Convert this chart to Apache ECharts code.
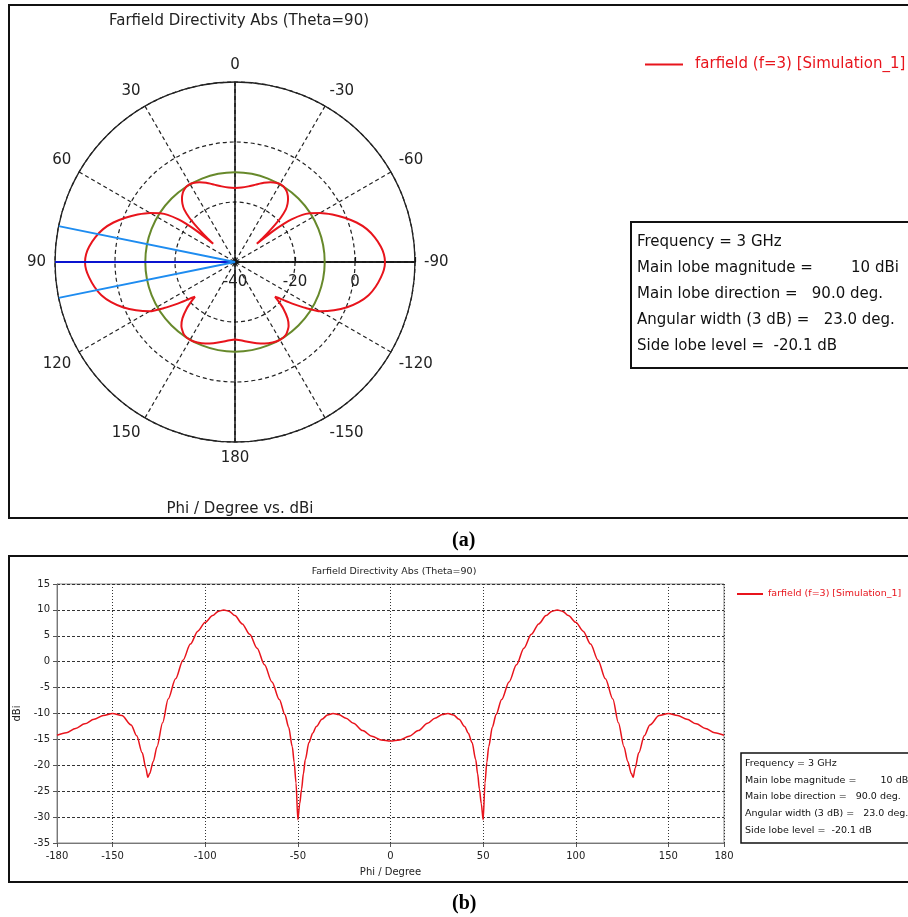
<!DOCTYPE html>
<html lang="en">
<head>
  <meta charset="UTF-8">
  <title>Farfield Directivity Abs (Theta=90)</title>
  <script src="https://cdn.jsdelivr.net/npm/echarts@6/dist/echarts.min.js"></script>
  <style>
    body { margin: 0; background: #fff; }
  </style>
</head>
<body>
  <div id="main" style="width: 908px;height:917px;"></div>
  <script>
    var myChart = echarts.init(document.getElementById('main'));

    // Phi / Degree
    var phiDeg = [-180, -175, -170, -165, -160, -155, -150, -145, -140, -137, -134, -132, -131, -130, -128, -126, -123, -120,
      -116, -112, -108, -104, -100, -96, -93, -90, -87, -84, -80, -76, -72, -68, -64, -60, -57, -55, -53, -52, -51, -50,
      -49, -48, -47, -46, -44, -42, -40, -37, -34, -31, -28, -24, -20, -15, -10, -5, 0,
      5, 10, 15, 20, 24, 28, 31, 34, 37, 40, 42, 44, 46, 47, 48, 49, 50, 51, 52, 53, 55, 57, 60,
      64, 68, 72, 76, 80, 84, 87, 90, 93, 96, 100, 104, 108, 112, 116, 120, 123, 126, 128, 130,
      131, 132, 134, 137, 140, 145, 150, 155, 160, 165, 170, 175, 180];
    // dBi
    var dbi = [-14.2, -13.7, -12.9, -12.0, -11.1, -10.4, -10.0, -10.4, -12.2, -14.3, -17.6, -20.6, -22.3, -21.6, -19.2, -16.4, -11.8, -7.2,
      -3.3, 0.3, 3.4, 5.9, 7.6, 8.9, 9.7, 10.0, 9.7, 8.9, 7.3, 5.3, 2.6, -0.6, -3.9, -7.3, -10.2, -12.6, -16.4, -19.4, -23.4, -30.5,
      -27.4, -24.6, -21.6, -18.9, -15.6, -13.8, -12.5, -11.1, -10.3, -10.0, -10.2, -10.9, -11.9, -13.3, -14.4, -15.1, -15.3,
      -15.1, -14.4, -13.3, -11.9, -10.9, -10.2, -10.0, -10.3, -11.1, -12.5, -13.8, -15.6, -18.9, -21.6, -24.6, -27.4, -30.5, -23.4, -19.4, -16.4, -12.6, -10.2, -7.3,
      -3.9, -0.6, 2.6, 5.3, 7.3, 8.9, 9.7, 10.0, 9.7, 8.9, 7.6, 5.9, 3.4, 0.3, -3.3, -7.2, -11.8, -16.4, -19.2, -21.6,
      -22.3, -20.6, -17.6, -14.3, -12.2, -10.4, -10.0, -10.4, -11.1, -12.0, -12.9, -13.7, -14.2];

    // cartesian x ticks
    var phiTicks = [-180, -150, -100, -50, 0, 50, 100, 150, 180];

    // results box
    var frequency = 3;
    var mainLobeMag = 10;
    var mainLobeDir = 90.0;
    var angularWidth = 23.0;
    var sideLobeLevel = -20.1;

    var seriesName = 'farfield (f=3) [Simulation_1]';
    var font = 'DejaVu Sans';
    var red = '#e8141c';

    var lineData = phiDeg.map(function (p, i) { return [p, dbi[i]]; });
    var polarData = phiDeg.map(function (p, i) { return [dbi[i], p]; });

    var infoLines = [
      'Frequency = ' + frequency + ' GHz',
      'Main lobe magnitude =        ' + mainLobeMag + ' dBi',
      'Main lobe direction =   ' + mainLobeDir.toFixed(1) + ' deg.',
      'Angular width (3 dB) =   ' + angularWidth.toFixed(1) + ' deg.',
      'Side lobe level =  ' + sideLobeLevel.toFixed(1) + ' dB'
    ];

    option = {
      animation: false,
      textStyle: { fontFamily: font },
      title: [
        {
          text: 'Farfield Directivity Abs (Theta=90)',
          left: 234, top: 9, textAlign: 'center',
          textStyle: { fontSize: 15, fontWeight: 'normal', color: '#222', fontFamily: font }
        },
        {
          text: 'Phi / Degree vs. dBi',
          left: 235, top: 497, textAlign: 'center',
          textStyle: { fontSize: 15, fontWeight: 'normal', color: '#222', fontFamily: font }
        },
        {
          text: 'Farfield Directivity Abs (Theta=90)',
          left: 389, top: 562, textAlign: 'center',
          textStyle: { fontSize: 9.5, fontWeight: 'normal', color: '#222', fontFamily: font }
        }
      ],
      legend: [
        {
          data: [seriesName], left: 645, top: 57, padding: 0, icon: 'rect', itemWidth: 38, itemHeight: 2,
          textStyle: { color: red, fontSize: 15, fontFamily: font, padding: [0, 0, 0, 7] }
        },
        {
          data: [seriesName], left: 737, top: 589, padding: 0, icon: 'rect', itemWidth: 26, itemHeight: 2,
          textStyle: { color: red, fontSize: 9.5, fontFamily: font }
        }
      ],
      polar: [
        { center: [235, 262], radius: 180 },
        { center: [235, 262], radius: 180 }
      ],
      angleAxis: [
        {
          polarIndex: 0, type: 'value', min: -180, max: 180, interval: 30,
          startAngle: 270, clockwise: false,
          axisLine: { lineStyle: { color: '#222', width: 1.3 } },
          axisTick: { show: false },
          axisLabel: {
            fontSize: 15, color: '#222', margin: 9,
            formatter: function (v) { return v === -180 ? '180' : (v === 180 ? '' : String(v)); }
          },
          splitLine: { lineStyle: { color: '#222', type: [4, 3], width: 1.2 } }
        },
        {
          polarIndex: 1, type: 'value', min: 0, max: 360, interval: 90,
          startAngle: 0, clockwise: false,
          axisLine: { show: false }, axisTick: { show: false }, axisLabel: { show: false },
          splitLine: { lineStyle: { color: '#111', width: 1.5 } }
        }
      ],
      radiusAxis: [
        {
          polarIndex: 0, type: 'value', min: -40, max: 20, interval: 20,
          axisLine: { show: false }, axisTick: { show: false }, axisLabel: { show: false },
          splitLine: { lineStyle: { color: '#222', type: [4, 3], width: 1.2 } }
        },
        {
          polarIndex: 1, type: 'value', min: -40, max: 20, interval: 20,
          axisLine: { lineStyle: { color: '#111', width: 1.5 } },
          axisTick: { show: true, inside: false, length: 5, lineStyle: { color: '#111', width: 1.2 } },
          axisLabel: {
            fontSize: 15, color: '#222', margin: -20, verticalAlign: 'middle',
            formatter: function (v) { return v === 20 ? '' : String(v); }
          },
          splitLine: { show: false }
        }
      ],
      grid: {
        left: 57, top: 584, right: 184, bottom: 74,
        show: true, borderColor: '#888', borderWidth: 1
      },
      xAxis: {
        type: 'value', min: -180, max: 180,
        name: 'Phi / Degree', nameLocation: 'middle', nameGap: 24,
        nameTextStyle: { fontSize: 10, color: '#222' },
        axisLine: { onZero: false, lineStyle: { color: '#777' } },
        axisTick: { customValues: phiTicks, length: 4, lineStyle: { color: '#555' } },
        axisLabel: { customValues: phiTicks, fontSize: 10, color: '#222', margin: 8 },
        splitLine: { show: true, lineStyle: { color: '#333', type: [1, 2] } }
      },
      yAxis: {
        type: 'value', min: -35, max: 15, interval: 5,
        name: 'dBi', nameLocation: 'middle', nameGap: 30, nameRotate: 90,
        nameTextStyle: { fontSize: 10, color: '#222' },
        axisLine: { show: true, onZero: false, lineStyle: { color: '#777' } },
        axisTick: { show: true, length: 4, lineStyle: { color: '#555' } },
        axisLabel: { fontSize: 10, color: '#222', margin: 7 },
        splitLine: { lineStyle: { color: '#333', type: [3, 2] } }
      },
      series: [
        {
          name: seriesName, type: 'line', coordinateSystem: 'polar', polarIndex: 0,
          data: polarData, showSymbol: false, symbol: 'none', smooth: 0.2,
          lineStyle: { color: red, width: 2 }, itemStyle: { color: red }, z: 5
        },
        {
          name: 'side lobe level', type: 'custom', coordinateSystem: 'polar', polarIndex: 0,
          data: [[mainLobeMag + sideLobeLevel, 0]], z: 4, silent: true,
          renderItem: function (params, api) {
            var c = api.coord([-40, 0]);
            var p = api.coord([api.value(0), 0]);
            var r = Math.sqrt((p[0] - c[0]) * (p[0] - c[0]) + (p[1] - c[1]) * (p[1] - c[1]));
            return {
              type: 'circle', shape: { cx: c[0], cy: c[1], r: r },
              style: { fill: 'none', stroke: '#67892b', lineWidth: 2 }
            };
          }
        },
        {
          name: 'main lobe', type: 'line', coordinateSystem: 'polar', polarIndex: 0,
          data: [[-40, mainLobeDir], [20, mainLobeDir]], symbol: 'none',
          lineStyle: { color: '#0a14d0', width: 2 }, z: 6, silent: true
        },
        {
          name: '3 dB width', type: 'line', coordinateSystem: 'polar', polarIndex: 0,
          data: [[20, mainLobeDir - angularWidth / 2], [-40, mainLobeDir], [20, mainLobeDir + angularWidth / 2]],
          symbol: 'none', lineStyle: { color: '#1e8cf0', width: 2 }, z: 6, silent: true
        },
        {
          name: seriesName, type: 'line', xAxisIndex: 0, yAxisIndex: 0,
          data: lineData, showSymbol: false, symbol: 'none', smooth: 0.3, smoothMonotone: 'x',
          lineStyle: { color: red, width: 1.5 }, itemStyle: { color: red }, z: 5
        }
      ],
      graphic: [
        // panel frames
        { type: 'rect', shape: { x: 9, y: 5, width: 910, height: 513 }, style: { fill: 'none', stroke: '#111', lineWidth: 2 }, silent: true },
        { type: 'rect', shape: { x: 9, y: 556, width: 910, height: 326 }, style: { fill: 'none', stroke: '#111', lineWidth: 2 }, silent: true },
        // results box (a)
        { type: 'rect', shape: { x: 631, y: 222, width: 290, height: 146 }, style: { fill: '#fff', stroke: '#111', lineWidth: 2 }, z: 10 },
        {
          type: 'text', left: 637, top: 229, z: 11,
          style: { text: infoLines.join('\n'), font: '15px "DejaVu Sans"', lineHeight: 26, fill: '#111' }
        },
        // results box (b)
        { type: 'rect', shape: { x: 741, y: 753, width: 180, height: 90 }, style: { fill: '#fff', stroke: '#111', lineWidth: 1.5 }, z: 10 },
        {
          type: 'text', left: 745, top: 755, z: 11,
          style: { text: infoLines.join('\n'), font: '9.5px "DejaVu Sans"', lineHeight: 16.7, fill: '#111' }
        },
        // captions
        {
          type: 'text', left: 452, top: 531,
          style: { text: '(a)', font: 'bold 20px "Liberation Serif"', fill: '#000' }
        },
        {
          type: 'text', left: 452, top: 894,
          style: { text: '(b)', font: 'bold 20px "Liberation Serif"', fill: '#000' }
        }
      ]
    };

    myChart.setOption(option);
  </script>
</body>
</html>
